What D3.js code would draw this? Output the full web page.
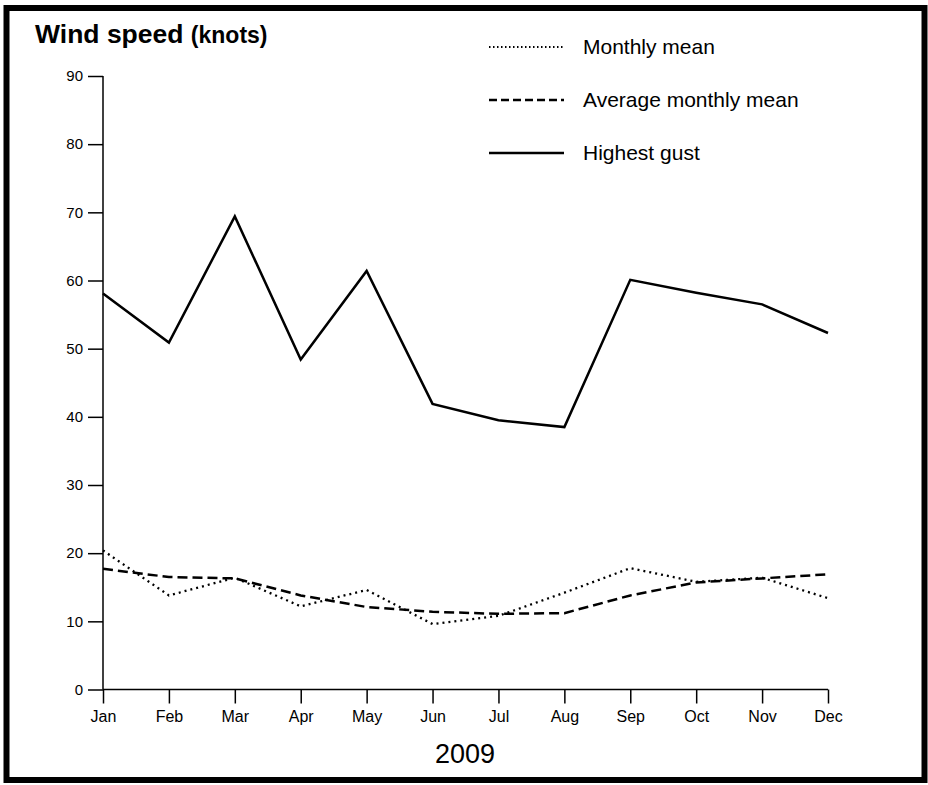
<!DOCTYPE html>
<html><head><meta charset="utf-8">
<script src="https://cdn.jsdelivr.net/npm/d3@7"></script>
<style>body{margin:0;background:#fff}svg{display:block}text{font-family:"Liberation Sans",Arial,Helvetica,sans-serif;fill:#000}</style>
</head><body>
<script>
const months = ["Jan","Feb","Mar","Apr","May","Jun","Jul","Aug","Sep","Oct","Nov","Dec"];
const monthlyMean = [20.4,13.8,16.4,12.2,14.6,9.6,10.8,14.2,17.8,15.8,16.4,13.4];
const avgMonthlyMean = [17.7,16.5,16.3,13.8,12.1,11.4,11.1,11.2,13.8,15.7,16.3,16.9];
const highestGust = [58.1,50.9,69.4,48.4,61.4,41.9,39.5,38.5,60.1,58.2,56.5,52.3];
const yTicks = [0,10,20,30,40,50,60,70,80,90];
const seriesNames = ["Monthly mean","Average monthly mean","Highest gust"];

const W=928,H=785;
const svg=d3.select("body").append("svg").attr("width",W).attr("height",H);
svg.append("rect").attr("x",6.5).attr("y",8).attr("width",918).attr("height",772)
  .attr("fill","none").attr("stroke","#000").attr("stroke-width",6);

const x=d3.scalePoint().domain(months).range([103,828]);
const y=d3.scaleLinear().domain([0,90]).range([689.5,76]);

const xAxis=svg.append("g").attr("transform","translate(0,689.5)")
  .call(d3.axisBottom(x).tickSize(14).tickPadding(7));
const yAxis=svg.append("g").attr("transform","translate(103,0)")
  .call(d3.axisLeft(y).tickValues(yTicks).tickSize(15).tickPadding(5));
[xAxis,yAxis].forEach(g=>{
  g.attr("font-family","Liberation Sans, Arial, sans-serif");
  g.select(".domain").attr("stroke","#000").attr("stroke-width",1.5);
  g.selectAll(".tick line").attr("stroke","#000").attr("stroke-width",1.5);
});
xAxis.attr("font-size",16).selectAll(".tick text").attr("font-size",16);
yAxis.attr("font-size",15).selectAll(".tick text").attr("font-size",15);
xAxis.select(".domain").attr("d","M103,0H828");
yAxis.select(".domain").attr("d","M0,689.5V76");

const styles=[
  {dash:"2,4",w:2.3},
  {dash:"10,5",w:2.5},
  {dash:null,w:2.5}
];
const data=[monthlyMean,avgMonthlyMean,highestGust];
const line=d3.line().x((d,i)=>x(months[i])).y(d=>y(d));
data.forEach((s,k)=>{
  svg.append("path").datum(s).attr("d",line).attr("fill","none")
    .attr("stroke","#000").attr("stroke-width",styles[k].w)
    .attr("stroke-linejoin","miter")
    .attr("stroke-dasharray",styles[k].dash);
});

// legend
const legY=[47,100,153];
const legStyles=[{dash:"1.5,2.5",w:2},{dash:"8,4",w:2.5},{dash:null,w:2.5}];
seriesNames.forEach((n,k)=>{
  svg.append("line").attr("x1",489).attr("x2",564).attr("y1",legY[k]).attr("y2",legY[k])
    .attr("stroke","#000").attr("stroke-width",legStyles[k].w).attr("stroke-dasharray",legStyles[k].dash);
  svg.append("text").attr("x",583).attr("y",legY[k]).attr("dy","0.35em").attr("font-size",21).text(n);
});

// title
const t=svg.append("text").attr("x",35).attr("y",43).attr("font-weight","bold");
t.append("tspan").attr("font-size",26.5).text("Wind speed ");
t.append("tspan").attr("font-size",23).text("(knots)");

svg.append("text").attr("x",465).attr("y",763).attr("text-anchor","middle").attr("font-size",27).text("2009");
</script>
</body></html>
